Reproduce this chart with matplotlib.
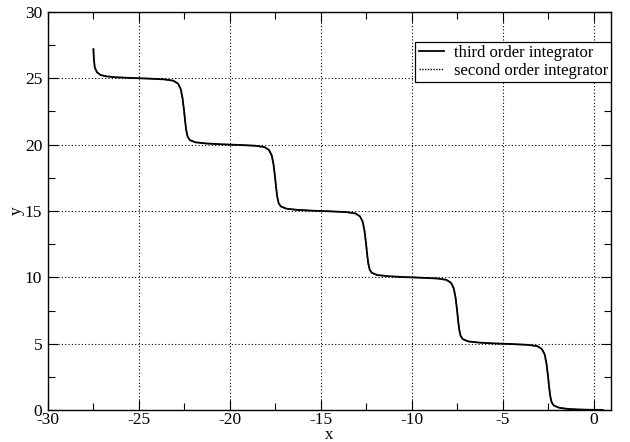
import matplotlib
matplotlib.use("Agg")
import matplotlib.pyplot as plt
from matplotlib.ticker import MultipleLocator

plt.rcParams['font.family'] = ['Liberation Serif', 'DejaVu Serif']
plt.rcParams['axes.unicode_minus'] = False

# staircase (x, y)
x_third = [-27.5, -27.47, -27.42, -27.3, -27.1, -26.8, -26.3, -25.5, -24.5, -23.6, -23.1, -22.85,
           -22.7, -22.6, -22.52, -22.46, -22.4, -22.32, -22.2, -21.9, -21.3, -20.5, -19.5, -18.6,
           -18.1, -17.85, -17.7, -17.6, -17.52, -17.46, -17.4, -17.32, -17.2, -16.9, -16.3, -15.5,
           -14.5, -13.6, -13.1, -12.85, -12.7, -12.6, -12.52, -12.46, -12.4, -12.32, -12.2, -11.9,
           -11.3, -10.5, -9.5, -8.6, -8.1, -7.85, -7.7, -7.6, -7.52, -7.46, -7.4, -7.32, -7.2,
           -6.9, -6.3, -5.5, -4.5, -3.6, -3.1, -2.85, -2.7, -2.6, -2.52, -2.46, -2.4, -2.32, -2.2,
           -1.9, -1.4, -0.8, -0.2, 0.5]
y_third = [27.2, 26.4, 25.8, 25.45, 25.25, 25.15, 25.08, 25.03, 24.98, 24.92, 24.82, 24.6,
           24.2, 23.5, 22.6, 21.8, 21.1, 20.6, 20.35, 20.18, 20.09, 20.03, 19.98, 19.92,
           19.82, 19.6, 19.2, 18.5, 17.6, 16.8, 16.1, 15.6, 15.35, 15.18, 15.09, 15.03,
           14.98, 14.92, 14.82, 14.6, 14.2, 13.5, 12.6, 11.8, 11.1, 10.6, 10.35, 10.18,
           10.09, 10.03, 9.98, 9.92, 9.82, 9.6, 9.2, 8.5, 7.6, 6.8, 6.1, 5.6, 5.35,
           5.18, 5.09, 5.03, 4.98, 4.92, 4.82, 4.6, 4.2, 3.5, 2.6, 1.8, 1.1, 0.6, 0.35,
           0.18, 0.09, 0.05, 0.03, 0.02]
x_second = list(x_third)
y_second = list(y_third)

fig = plt.figure(figsize=(6.3, 4.42), dpi=100)
ax = fig.add_axes([0.076, 0.072, 0.894, 0.901])

ax.plot(x_third, y_third, color='black', lw=1.3, label='third order integrator')
ax.plot(x_second, y_second, color='black', lw=1.0, ls=(0, (1, 1)), label='second order integrator')

ax.set_xlim(-30, 0.95)
ax.set_ylim(0, 30)
ax.xaxis.set_major_locator(MultipleLocator(5))
ax.xaxis.set_minor_locator(MultipleLocator(2.5))
ax.yaxis.set_major_locator(MultipleLocator(5))
ax.yaxis.set_minor_locator(MultipleLocator(2.5))
ax.tick_params(which='both', direction='in', top=True, right=True, labelsize=12.5, width=0.8)
ax.tick_params(which='major', length=7, pad=1.5)
ax.tick_params(axis='y', which='major', pad=4)
ax.tick_params(which='minor', length=5)
ax.grid(True, which='major', color='black', ls=(0, (1, 2)), lw=0.8)
for s in ax.spines.values():
    s.set_linewidth(1.0)

ax.set_xlabel('x', fontsize=12, labelpad=-1)
ax.set_ylabel('y', fontsize=12.5, labelpad=0)

leg = ax.legend(loc='upper right', bbox_to_anchor=(1.0, 0.925), fontsize=12, frameon=True,
                fancybox=False, edgecolor='black', framealpha=1, handlelength=1.5,
                borderpad=0.2, labelspacing=0.1, handletextpad=0.6, borderaxespad=0)
leg.get_frame().set_linewidth(0.9)

fig.savefig('out.png', dpi=100)
